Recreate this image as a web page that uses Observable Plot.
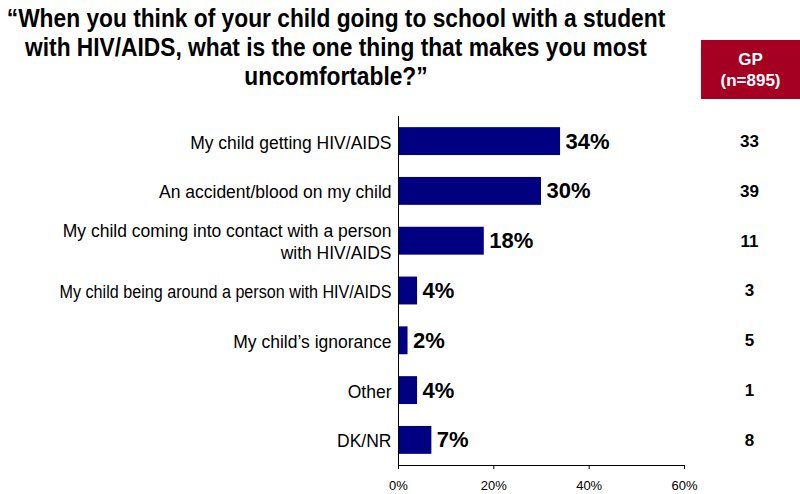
<!DOCTYPE html>
<html>
<head>
<meta charset="utf-8">
<script src="https://cdn.jsdelivr.net/npm/d3@7"></script>
<script src="https://cdn.jsdelivr.net/npm/@observablehq/plot@0.6"></script>
<style>
  html, body { margin: 0; padding: 0; background: #fff; }
  #wrap { position: relative; width: 800px; height: 494px; overflow: hidden; }
  #title { position: absolute; left: -74px; top: 4px; width: 820px; text-align: center; white-space: nowrap;
    transform: scaleX(0.875); transform-origin: 410px 0;
    font-family: "Liberation Sans", Arial, sans-serif;
    font-weight: bold; font-size: 26px; line-height: 29px; color: #000; }
  #gp { position: absolute; left: 701px; top: 40px; width: 99px; height: 59px; background: #a50021;
    color: #fff; font-family: "Liberation Sans", Arial, sans-serif; font-weight: bold; font-size: 17px;
    line-height: 21px; text-align: center; display: flex; flex-direction: column; justify-content: center; }
  #chart { position: absolute; left: 0; top: 0; }
</style>
</head>
<body>
<div id="wrap">
  <div id="chart"></div>
  <div id="title">“When you think of your child going to school with a student<br>with HIV/AIDS, what is the one thing that makes you most<br>uncomfortable?”</div>
  <div id="gp"><div>GP</div><div>(n=895)</div></div>
</div>
<script>
const categories = [
  "My child getting HIV/AIDS",
  "An accident/blood on my child",
  "My child coming into contact with a person\nwith HIV/AIDS",
  "My child being around a person with HIV/AIDS",
  "My child’s ignorance",
  "Other",
  "DK/NR"
];
const values = [34, 30, 18, 4, 2, 4, 7];
const gpValues = [33, 39, 11, 3, 5, 1, 8];
const xTicks = [0, 20, 40, 60];

const data = categories.map((c, i) => ({category: c, value: values[i], gp: gpValues[i]}));

const chart = Plot.plot({
  width: 800,
  height: 494,
  marginTop: 116,
  marginBottom: 29,
  marginLeft: 398,
  marginRight: 116,
  style: {fontFamily: "'Liberation Sans', Arial, sans-serif", color: "#000", background: "transparent"},
  x: {domain: [0, 60], label: null},
  y: {domain: categories, paddingInner: 0.44, paddingOuter: 0.224, round: false, label: null},
  marks: [
    Plot.barX(data, {x: "value", y: "category", fill: "#000080"}),
    Plot.ruleX([0], {stroke: "#000", strokeWidth: 1}),
    Plot.frame({anchor: "bottom", stroke: "#000", strokeWidth: 1}),
    Plot.axisX({anchor: "bottom", ticks: xTicks, tickSize: 4, tickPadding: 11,
      tickFormat: d => d + "%", fontSize: 13, label: null}),
    Plot.axisY({anchor: "left", tickSize: 0, tickPadding: 7, fontSize: 17.5, lineHeight: 1.26,
      tickFormat: d => d, label: null}),
    Plot.text(data, {x: "value", y: "category", text: d => d.value + "%", textAnchor: "start",
      dx: 5, fontSize: 22, fontWeight: "bold", fill: "#000"}),
    Plot.text(data, {y: "category", frameAnchor: "right", text: d => String(d.gp), textAnchor: "middle",
      dx: 65, fontSize: 17, fontWeight: "bold", fill: "#000"})
  ]
});
// the longest label is set slightly condensed in the reference
d3.select(chart).selectAll("text").filter(function () {
  return this.textContent === categories[3];
}).attr("textLength", 332).attr("lengthAdjust", "spacingAndGlyphs");
document.getElementById("chart").appendChild(chart);
</script>
</body>
</html>
